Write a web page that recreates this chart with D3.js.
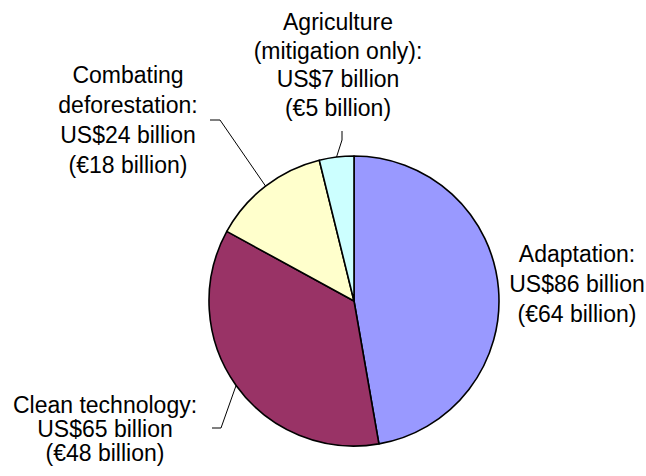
<!DOCTYPE html>
<html>
<head>
<meta charset="utf-8">
<script src="https://cdn.jsdelivr.net/npm/d3@7"></script>
<style>
  body { margin: 0; background: #fff; }
  svg { display: block; }
  text { font-family: Arial, "Liberation Sans", sans-serif; font-size: 23px; fill: #000; }
</style>
</head>
<body>
<svg id="chart" width="646" height="476"></svg>
<script>
// data
const categories = ["Adaptation", "Clean technology", "Combating deforestation", "Agriculture (mitigation only)"]
const usdBillions = [86, 65, 24, 7]
const eurBillions = [64, 48, 18, 5]
const sliceColors = ["#9999ff", "#993366", "#ffffcc", "#ccffff"]
const labelLines = [
    ["Adaptation:", "US$86 billion", "(€64 billion)"],
    ["Clean technology:", "US$65 billion", "(€48 billion)"],
    ["Combating", "deforestation:", "US$24 billion", "(€18 billion)"],
    ["Agriculture", "(mitigation only):", "US$7 billion", "(€5 billion)"]
]

// layout
const cx = 354, cy = 301, radius = 145
const labelLayout = [
    { x: 577, y: 262, dy: 30, elbow: null },
    { x: 105, y: 413, dy: 24, elbow: [[212, 428], [221, 428]] },
    { x: 128, y: 83, dy: 30, elbow: [[210, 120], [220, 120]] },
    { x: 338, y: 30, dy: 28.5, elbow: [[342, 131], [342, 140]] }
]

const svg = d3.select("#chart")
const g = svg.append("g").attr("transform", `translate(${cx},${cy})`)

const pie = d3.pie().sort(null).value(d => d)
const arcs = pie(usdBillions)

const arc = d3.arc().innerRadius(0).outerRadius(radius)
const edgeArc = d3.arc().innerRadius(radius).outerRadius(radius)

g.selectAll("path.slice")
    .data(arcs)
    .enter()
    .append("path")
    .attr("class", "slice")
    .attr("d", arc)
    .attr("fill", (d, i) => sliceColors[i])
    .attr("stroke", "#000")
    .attr("stroke-width", 1.6)
    .attr("stroke-linejoin", "round")

// leader lines
const line = d3.line()
arcs.forEach((d, i) => {
    const lay = labelLayout[i]
    if (!lay.elbow) return
    const [ex, ey] = edgeArc.centroid(d)
    const pts = lay.elbow.map(p => [p[0], p[1]]).concat([[cx + ex, cy + ey]])
    svg.append("path")
        .attr("d", line(pts))
        .attr("fill", "none")
        .attr("stroke", "#000")
        .attr("stroke-width", 1)
})

// labels
labelLines.forEach((lines, i) => {
    const lay = labelLayout[i]
    const t = svg.append("text")
        .attr("text-anchor", "middle")
        .attr("x", lay.x)
        .attr("y", lay.y)
    lines.forEach((s, j) => {
        t.append("tspan")
            .attr("x", lay.x)
            .attr("y", lay.y + j * lay.dy)
            .text(s)
    })
})
</script>
</body>
</html>
